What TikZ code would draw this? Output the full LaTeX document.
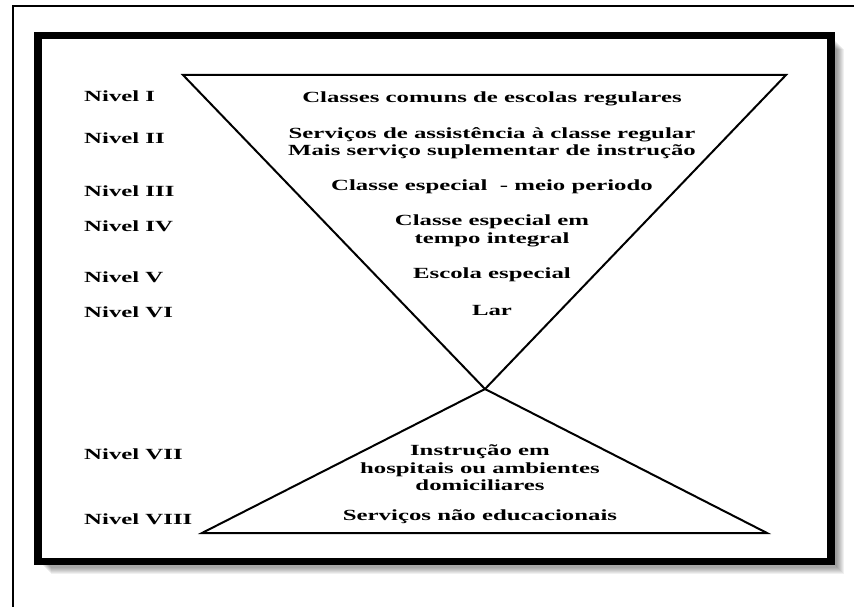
\documentclass[tikz,border=0pt]{standalone}
\usepackage{fontspec}
\setmainfont[FakeStretch=1.6]{Liberation Serif}

\begin{document}
\begin{tikzpicture}[x=1pt, y=-1pt,
  nivel/.style={anchor=west, inner sep=0, font=\bfseries\fontsize{15.5}{17}\selectfont},
  servico/.style={align=center, inner sep=0, font=\bfseries\fontsize{15.5}{17.5}\selectfont},
  linha/.style={draw, line width=2pt, line join=miter}
  ]
  \useasboundingbox (0,0) rectangle (854,607);

  % page border (cut at right and bottom)
  \draw[line width=2pt] (13,607) -- (13,6) -- (854,6);

  % frame with its shadow
  \foreach \s in {1,...,9}
    \draw[black, opacity=0.06, line width=7.5pt] (831+\s,40+\s) -- (831+\s,561.5+\s) -- (42+\s,561.5+\s);
  \draw[line width=7.5pt] (38,35.5) rectangle (831,561.5);

  % the two triangles
  \coordinate (topL) at (183,75);
  \coordinate (topR) at (786,75);
  \coordinate (vertice) at (485,389);
  \coordinate (baseL) at (202,533);
  \coordinate (baseR) at (767,533);
  \draw[linha] (topL) -- (topR) -- (vertice) -- cycle;
  \draw[linha] (vertice) -- (baseR) -- (baseL) -- cycle;

  % levels
  \node[nivel] (n1) at (84,96) {Nivel I};
  \node[nivel] (n2) at (84,138) {Nivel II};
  \node[nivel] (n3) at (84,191) {Nivel III};
  \node[nivel] (n4) at (84,226) {Nivel IV};
  \node[nivel] (n5) at (84,277) {Nivel V};
  \node[nivel] (n6) at (84,312) {Nivel VI};
  \node[nivel] (n7) at (84,454) {Nivel VII};
  \node[nivel] (n8) at (84,519) {Nivel VIII};

  % services
  \node[servico] (s1) at (492,99) {Classes comuns de escolas regulares};
  \node[servico] (s2) at (492,143) {Serviços de assistência à classe regular\\Mais serviço suplementar de instrução};
  \node[servico] (s3) at (492,187) {Classe especial~ - meio periodo};
  \node[servico] (s4) at (492,231) {Classe especial em\\tempo integral};
  \node[servico] (s5) at (492,275) {Escola especial};
  \node[servico] (s6) at (492,310) {Lar};
  \node[servico] (s7) at (480,468) {Instrução em\\hospitais ou ambientes\\domiciliares};
  \node[servico] (s8) at (480,517) {Serviços não educacionais};
\end{tikzpicture}
\end{document}
